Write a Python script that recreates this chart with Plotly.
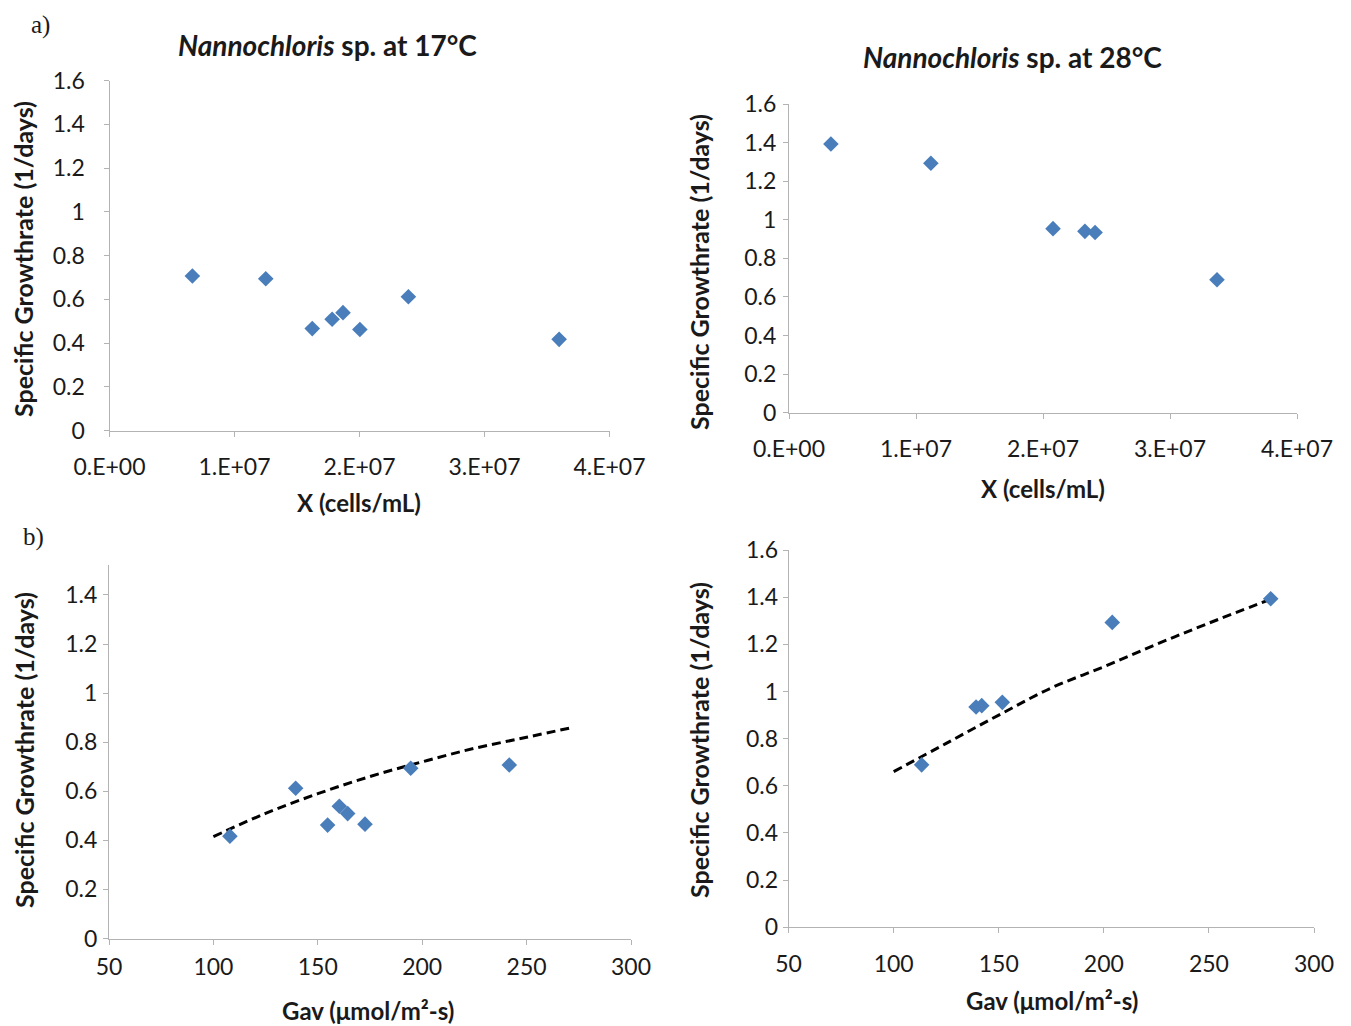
import plotly.graph_objects as go

# The page body has an 8px margin, so the figure is drawn 8px in from the top-left.
OFF = 8
W, H = 1351 - OFF, 1026 - OFF

# ---------------- data ----------------
# Nannochloris sp. at 17°C
cells17 = [0.663e7, 1.25e7, 1.622e7, 1.781e7, 1.868e7, 2.003e7, 2.391e7, 3.597e7]
gav17 = [241.7, 194.5, 172.6, 164.3, 160.3, 154.7, 139.4, 107.9]
mu17 = [0.707, 0.694, 0.466, 0.509, 0.539, 0.462, 0.612, 0.417]

# Nannochloris sp. at 28°C
cells28 = [0.33e7, 1.117e7, 2.079e7, 2.33e7, 2.41e7, 3.37e7]
gav28 = [279.4, 204.0, 151.7, 141.9, 139.2, 113.3]
mu28 = [1.393, 1.293, 0.954, 0.940, 0.934, 0.689]

# model curves
fit17_gav = [100, 125, 150, 175, 200, 225, 250, 272]
fit17_mu = [0.415, 0.51, 0.59, 0.66, 0.72, 0.775, 0.82, 0.86]
fit28_gav = [100, 125, 150, 175, 200, 225, 250, 279]
fit28_mu = [0.66, 0.78, 0.90, 1.015, 1.105, 1.20, 1.29, 1.39]

cell_ticks = [0, 1e7, 2e7, 3e7, 4e7]
cell_ticktext = ["0.E+00", "1.E+07", "2.E+07", "3.E+07", "4.E+07"]
gav_ticks = [50, 100, 150, 200, 250, 300]
mu_ticks = [0, 0.2, 0.4, 0.6, 0.8, 1.0, 1.2, 1.4, 1.6]
mu_ticktext = ["0", "0.2", "0.4", "0.6", "0.8", "1", "1.2", "1.4", "1.6"]

title17 = "<b><i>Nannochloris</i> sp. at 17°C</b>"
title28 = "<b><i>Nannochloris</i> sp. at 28°C</b>"
ylab = "<b>Specific Growthrate (1/days)</b>"
xlab_cells = "<b>X (cells/mL)</b>"
xlab_gav = "<b>Gav (μmol/m²-s)</b>"

# ---------------- style ----------------
BLUE = "#4a7ebb"
AXC = "#b3b3b3"
TXT = "#1a1a1a"
FONT = "Lato"
TICK_SIZE = 23


def px(xp):
    return (xp - OFF) / W


def py(yp):
    return 1 - (yp - OFF) / H


fig = go.Figure()

marker = dict(symbol="diamond", size=12, color=BLUE)
dash_line = dict(color="black", width=3, dash="9px,5px", shape="spline")

fig.add_trace(go.Scatter(x=cells17, y=mu17, mode="markers", marker=marker,
                         xaxis="x", yaxis="y", showlegend=False))
fig.add_trace(go.Scatter(x=cells28, y=mu28, mode="markers", marker=marker,
                         xaxis="x2", yaxis="y2", showlegend=False))
fig.add_trace(go.Scatter(x=fit17_gav, y=fit17_mu, mode="lines", line=dash_line,
                         xaxis="x3", yaxis="y3", showlegend=False))
fig.add_trace(go.Scatter(x=gav17, y=mu17, mode="markers", marker=marker,
                         xaxis="x3", yaxis="y3", showlegend=False))
fig.add_trace(go.Scatter(x=fit28_gav, y=fit28_mu, mode="lines", line=dash_line,
                         xaxis="x4", yaxis="y4", showlegend=False))
fig.add_trace(go.Scatter(x=gav28, y=mu28, mode="markers", marker=marker,
                         xaxis="x4", yaxis="y4", showlegend=False))


def axis(domain, rng, tickvals, ticktext=None, anchor=None, standoff=0):
    d = dict(domain=domain, range=rng, tickvals=tickvals, showline=True,
             linecolor=AXC, linewidth=1, ticks="outside", ticklen=5,
             tickcolor=AXC, tickwidth=1, showgrid=False, zeroline=False,
             tickfont=dict(family=FONT, size=TICK_SIZE, color=TXT),
             anchor=anchor, ticklabelstandoff=standoff, fixedrange=True,
             automargin=False)
    if ticktext is not None:
        d["ticktext"] = ticktext
    return d


# panel pixel boxes in window pixels: (left, right, top, bottom)
A1 = (109.5, 609.5, 80.7, 430.5)
A2 = (789.0, 1297.0, 104.0, 412.7)
B1 = (109.0, 631.0, 565.0, 938.5)
B2 = (788.6, 1314.0, 550.0, 927.3)


def dom_x(b):
    return [px(b[0]), px(b[1])]


def dom_y(b):
    return [py(b[3]), py(b[2])]


fig.update_layout(
    width=W, height=H,
    margin=dict(l=0, r=0, t=0, b=0, autoexpand=False),
    paper_bgcolor="white", plot_bgcolor="white",
    xaxis=axis(dom_x(A1), [0, 4e7], cell_ticks, cell_ticktext, "y", 11),
    yaxis=axis(dom_y(A1), [0, 1.6], mu_ticks, mu_ticktext, "x", 14),
    xaxis2=axis(dom_x(A2), [0, 4e7], cell_ticks, cell_ticktext, "y2", 11),
    yaxis2=axis(dom_y(A2), [0, 1.6], mu_ticks, mu_ticktext, "x2", 2),
    xaxis3=axis(dom_x(B1), [50, 300], gav_ticks, None, "y3", 3),
    yaxis3=axis(dom_y(B1), [0, 1.522], mu_ticks[:-1], mu_ticktext[:-1], "x3", 1),
    xaxis4=axis(dom_x(B2), [50, 300], gav_ticks, None, "y4", 11),
    yaxis4=axis(dom_y(B2), [0, 1.6], mu_ticks, mu_ticktext, "x4", 0),
)

ann = []


def add_text(text, x, y, size, angle=0, family=FONT):
    ann.append(dict(text=text, x=px(x), y=py(y), xref="paper", yref="paper",
                    xanchor="center", yanchor="middle", showarrow=False,
                    textangle=angle, font=dict(family=family, size=size, color=TXT)))


add_text("a)", 40, 25, 25, family="Liberation Serif")
add_text("b)", 33, 537, 25, family="Liberation Serif")
add_text(title17, 327.5, 45, 28)
add_text(title28, 1012.4, 57, 28)
add_text(ylab, 23, 259, 25, -90)
add_text(ylab, 699, 272, 25, -90)
add_text(ylab, 24, 750, 25, -90)
add_text(ylab, 699, 740, 25, -90)
add_text(xlab_cells, 358.6, 502, 24)
add_text(xlab_cells, 1043, 488, 24)
add_text(xlab_gav, 368, 1010, 24)
add_text(xlab_gav, 1052, 1000, 24)

fig.update_layout(annotations=ann)

fig.write_html("out.html")
